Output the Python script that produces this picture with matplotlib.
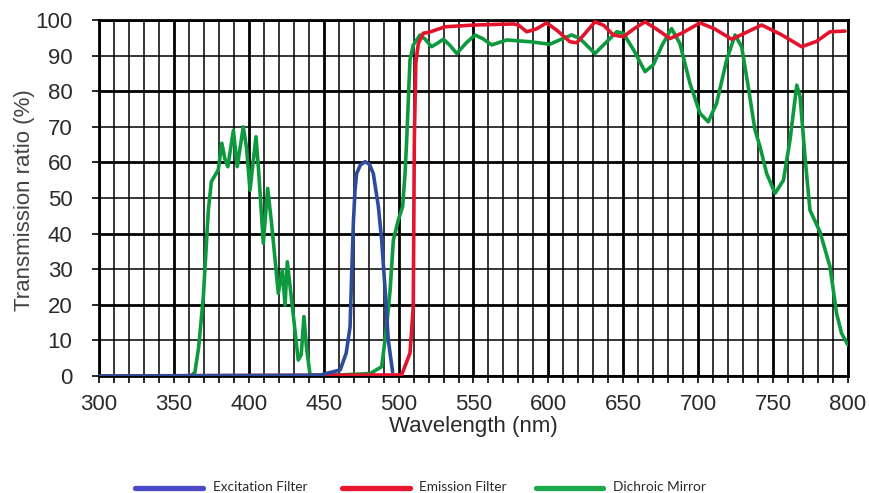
import matplotlib
matplotlib.use("Agg")
import matplotlib.pyplot as plt
from matplotlib.lines import Line2D
from matplotlib import font_manager

# Excitation filter (blue)
exc_nm = [300, 447, 461, 465, 467.6, 468.7, 469.8, 470.9, 472, 474.5, 477.6, 480.5, 483.1,
          486.5, 488.7, 491, 493.1, 496]
exc_pct = [0, 0.2, 1.7, 6.4, 13.8, 28.8, 42.9, 52.2, 56.9, 59.3, 60.2, 59.5, 56.9,
           47.6, 38.2, 24.2, 10.1, 1.2]

# Emission filter (red)
emi_nm = [300, 502, 507.6, 509.8, 510.5, 511.5, 513.2, 516.5, 519.9, 531, 551, 576.6, 580,
          585.5, 592, 598.8, 606, 614.4, 618.9, 624, 631.1, 637, 643.3, 650, 657, 664.5,
          672, 681.2, 690, 701.2, 711, 722.4, 732, 742.4, 755, 769.1, 779, 788, 798]
emi_pct = [0, 0.3, 6.4, 19.5, 66.3, 88, 93.4, 96.3, 96.5, 98.1, 98.6, 98.9, 98.6,
           96.7, 97.5, 99.2, 97, 93.9, 93.6, 96, 99.5, 98.5, 95.8, 95.3, 97.5, 99.5,
           97.5, 94.8, 96.5, 99.2, 97.5, 94.6, 96.5, 98.6, 96, 92.5, 94, 96.7, 96.9]

# Dichroic mirror (green)
dic_nm = [300, 361, 364, 366.5, 369.6, 373, 375, 379.6, 382, 384, 386, 389.7, 392.3, 396.3,
          398.5, 400.8, 404.8, 406.5, 409.7, 412.6, 415.2, 419.7, 422.4, 424.2, 425.7, 428.6,
          433, 435, 436.8, 438.5, 440.9, 460.9, 481, 488.7, 492, 494.3, 496.5, 499.8, 502.7,
          504.3, 505.4, 507.6, 509.8, 514.3, 518, 522, 526, 529.9, 534, 538.8, 545, 551,
          556, 562.2, 572.2, 587.7, 601, 608, 615.5, 621, 631.1, 638, 645.6, 650, 657,
          664.5, 670, 676, 682.2, 687.8, 694.5, 701.2, 706.7, 712.3, 719, 724.6, 729, 733.4,
          737.9, 741.3, 745.7, 751.3, 756.9, 761.3, 765.8, 768, 771.3, 774.6, 781.3, 788,
          792.4, 795.7, 800]
dic_pct = [0, 0, 1, 8, 22, 46.6, 54.6, 57.9, 65.4, 61, 58.8, 69, 58.8, 70,
           64, 52.2, 67.2, 58, 37.3, 52.7, 42.9, 23.2, 29.8, 19.9, 32.1, 21.3,
           4.5, 6, 16.7, 8, 0.3, 0.3, 0.7, 2.6, 13.8, 24, 38.2, 43.8, 47.6,
           56.9, 66.3, 88.8, 93, 95.8, 94.5, 92.5, 93.5, 94.6, 93, 90.6, 93.5, 95.8,
           94.8, 93, 94.4, 93.9, 93.2, 94.5, 95.8, 94.8, 90.6, 93.5, 96.7, 96.3, 91.5,
           85.5, 87.4, 93, 97.6, 93.4, 82.2, 73.8, 71.4, 76.6, 88.8, 95.8, 92.5, 81.3,
           69.1, 64.4, 56.9, 51.3, 55, 66.3, 81.7, 78.5, 61.6, 46.6, 40.5, 30.7,
           17.6, 12, 8.7]

series_names = ["Excitation Filter", "Emission Filter", "Dichroic Mirror"]

BLUE = "#2E4A9C"
RED = "#E3132C"
GREEN = "#0D9A3E"
TXT = "#2A2A2A"

avail = {f.name for f in font_manager.fontManager.ttflist}
LAB = "Liberation Sans" if "Liberation Sans" in avail else "DejaVu Sans"
LEG = "Lato" if "Lato" in avail else LAB

fig = plt.figure(figsize=(8.7, 4.93), dpi=100)
ax = fig.add_axes([0.1138, 0.2373, 0.8609, 0.7221])

ax.set_xlim(300, 800)
ax.set_ylim(0, 100)

# grid: thin every 10, thick every 50 nm / 20 %
for x in range(300, 801, 10):
    ax.axvline(x, color="black", lw=2.0 if x % 50 == 0 else 1.1, zorder=1)
for y in range(0, 101, 10):
    ax.axhline(y, color="black", lw=2.0 if y % 20 == 0 else 1.1, zorder=1)

ax.plot(dic_nm, dic_pct, color=GREEN, lw=2.6, zorder=3, solid_capstyle="round",
        solid_joinstyle="round")
ax.plot(emi_nm, emi_pct, color=RED, lw=2.6, zorder=3, solid_capstyle="round",
        solid_joinstyle="round")
ax.plot(exc_nm, exc_pct, color=BLUE, lw=2.6, zorder=4, solid_capstyle="round",
        solid_joinstyle="round")

ax.set_xticks(range(300, 801, 50))
ax.set_xticks(range(300, 801, 10), minor=True)
ax.set_yticks(range(0, 101, 10))
ax.tick_params(axis="both", which="both", direction="out", length=5, width=1.2,
               colors="black")
ax.tick_params(axis="y", pad=14)
ax.tick_params(axis="x", pad=8)
for lab in ax.get_xticklabels() + ax.get_yticklabels():
    lab.set_fontfamily(LAB)
    lab.set_fontsize(16)
    lab.set_color(TXT)
for s in ax.spines.values():
    s.set_linewidth(2.0)

ax.set_xlabel("Wavelength (nm)", fontsize=16, family=LAB, color=TXT)
ax.xaxis.set_label_coords(0.5, -0.112)
ax.set_ylabel("Transmission ratio (%)", fontsize=16, family=LAB, color="#444444")
ax.yaxis.set_label_coords(-0.0854, 0.494)

# legend drawn by hand below the plot, like the original
legend_colors = ["#4A4AC8", "#E8162E", "#1DAA4A"]
line_x = [(135, 203), (342, 410), (536, 603)]
text_x = [213, 419, 613]
W, H = 870.0, 493.0
for name, col, (x0, x1), tx in zip(series_names, legend_colors, line_x, text_x):
    fig.add_artist(Line2D([x0 / W, x1 / W], [1 - 488 / H] * 2, color=col, lw=3.8,
                          solid_capstyle="round", transform=fig.transFigure))
    fig.text(tx / W, 1 - 487 / H, name, family=LEG, fontsize=9.8, color=TXT,
             ha="left", va="center")

fig.savefig("out.png", dpi=100)
